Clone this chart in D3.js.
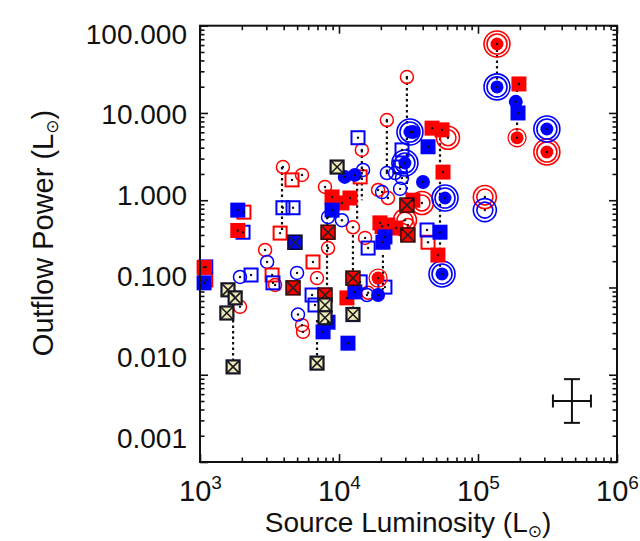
<!DOCTYPE html>
<html><head><meta charset="utf-8">
<script src="https://cdn.jsdelivr.net/npm/d3@7"></script>
<style>body{margin:0;background:#fff}svg{display:block}text{font-family:"Liberation Sans",Arial,sans-serif;fill:#111}</style>
</head><body><svg id="c" width="640" height="541"></svg>
<script>
// ---------- data: [Source Luminosity (Lsun), Outflow Power (Lsun)] ----------
const xTickValues = [1e3, 1e4, 1e5, 1e6];
const xTickExponents = ["3", "4", "5", "6"];
const yTickValues = [100, 10, 1, 0.1, 0.01, 0.001];
const yTickLabels = ["100.000", "10.000", "1.000", "0.100", "0.010", "0.001"];

const redFilledSquares = [[197000,21.5],[46700,6.7],[55100,6.4],[56000,2.1],[51500,0.235],[34000,1.0],
  [8910,1.09],[12000,1.06],[10500,0.93],[19700,0.55],[22500,0.52],[20400,0.50],[25700,0.48],
  [1870,0.45],[11400,0.076],[1070,0.17]];
const redXSquares = [[12600,0.128],[7930,0.082],[4670,0.099],[30800,0.88],[31300,0.40],[8340,0.43]];
const darkXSquares = [[9690,2.4],[1590,0.094],[1790,0.076],[1560,0.051],[1730,0.0123],
  [7930,0.063],[7930,0.045],[12600,0.049],[6950,0.0136]];
const blueXSquares = [[4820,0.33]];
const blueFilledSquares = [[194000,10],[43700,4.1],[53300,0.43],[1870,0.77],[8910,0.77],[21400,0.38],
  [20700,0.33],[13000,0.089],[8340,0.040],[7680,0.031],[11600,0.023],[1070,0.113]];
const blueFilledCircles = [[187000,13.4],[40200,1.62],[11000,1.85],[13000,1.95],[19100,0.082],[34000,6.05]];
const redFilledCircles = [[191000,5.2],[19100,0.128]];
const redBullseyes = [[137000,61.7],[313000,3.57]];
const blueBullseyes = [[137000,19.9],[313000,6.55],[57900,1.06],[55100,0.143],[32400,6.05],[29800,2.67]];
const redRings = [[112000,1.09],[60800,5.2],[29800,0.59],[39500,0.93]];
const blueRings = [[112000,0.77]];
const redOpenCircles = [[30800,25.8],[22100,8.3],[14600,3.77],[3950,2.4],[5420,1.95],[7930,1.42],
  [19100,1.31],[22500,1.06],[12600,0.49],[15400,0.37],[8340,0.283],[2940,0.269],[6950,0.128],
  [3470,0.107],[1940,0.060],[5420,0.037],[5510,0.031],[16200,0.087],[28400,0.46],[31300,0.52]];
const blueOpenCircles = [[22100,2.05],[14900,2.22],[25300,2.05],[28400,1.8],[8340,0.64],[10500,0.59],
  [20400,1.24],[4990,0.147],[3040,0.196],[1940,0.132],[5070,0.049],[15900,0.082],[27500,1.35]];
const redOpenSquares = [[14200,1.85],[4590,1.71],[2070,0.73],[3770,0.42],[6500,0.196],[3300,0.139],
  [43700,0.33],[1100,0.122]];
const blueOpenSquares = [[13700,5.2],[28400,3.77],[27500,2.4],[3950,0.82],[4670,0.82],[2040,0.43],
  [16200,0.283],[2330,0.139],[3350,0.113],[14200,0.116],[21400,0.101],[6400,0.082],[6720,0.063],
  [43000,0.456],[1100,0.172]];
// dotted links between measurements of one source: [L, P1, P2]
const links = [[137000,61.7,19.9],[191000,21.5,5.2],[30800,25.8,1.0],[22100,8.3,2.05],[14600,3.77,1.0],
  [13500,1.57,0.59],[3890,2.4,0.42],[53300,5.2,0.143],[12600,0.40,0.0425],[20700,0.235,0.094],
  [8200,1.0,0.082],[1730,0.076,0.0123],[6950,0.0425,0.0136],[1640,0.094,0.051]];
// typical error bar: center and multiplicative half-widths
const errCenter = [474000, 0.0050];
const errFactor = [1.37, 1.78];

// ---------- drawing ----------
const svg = d3.select("#c");
const L = 200, R = 617, T = 25.7, B = 462;
const x = d3.scaleLog().domain([1e3, 1e6]).range([L, R]);
const y = d3.scaleLog().domain([1e-3, 1e2]).range([B, T]);
const yLab = d3.scaleLog().domain([1e-3, 1e2]).range([437, 33]);
const RED = "#ff0000", BLUE = "#0000ff";

svg.append("rect").attr("width",640).attr("height",541).attr("fill","#fff");

function minors(lo, hi){ const a=[]; for(let e=lo;e<hi;e++) for(let k=2;k<=9;k++) a.push(k*Math.pow(10,e)); return a; }
const xMinor = minors(3,6), yMinor = minors(-3,2);

function tickAxis(axisFn, scale, vals, size, tr){
  const g = svg.append("g").attr("transform", tr)
    .call(axisFn(scale).tickValues(vals).tickSizeInner(size).tickSizeOuter(0).tickFormat(""));
  g.select(".domain").remove();
  g.selectAll("text").remove();
  g.selectAll("line").attr("stroke","#111").attr("stroke-width",1.6);
}
tickAxis(d3.axisBottom, x, xTickValues, -8, `translate(0,${B})`);
tickAxis(d3.axisBottom, x, xMinor, -4.5, `translate(0,${B})`);
tickAxis(d3.axisTop, x, xTickValues, -8, `translate(0,${T})`);
tickAxis(d3.axisTop, x, xMinor, -4.5, `translate(0,${T})`);
tickAxis(d3.axisLeft, y, yTickValues, -8, `translate(${L},0)`);
tickAxis(d3.axisLeft, y, yMinor, -4.5, `translate(${L},0)`);
tickAxis(d3.axisRight, y, yTickValues, -8, `translate(${R},0)`);
tickAxis(d3.axisRight, y, yMinor, -4.5, `translate(${R},0)`);

// y labels
const gy = svg.append("g").attr("transform",`translate(187,0)`)
  .call(d3.axisLeft(yLab).tickValues(yTickValues).tickSize(0).tickPadding(0)
        .tickFormat((d,i)=>yTickLabels[i]));
gy.select(".domain").remove();
gy.selectAll("line").remove();
gy.selectAll("text").attr("font-size",28).attr("fill","#111").attr("dy","0.36em")
  .style("font-family","'Liberation Sans',Arial,sans-serif");

// x labels with superscript exponents
const gx = svg.append("g").attr("transform",`translate(0,501)`)
  .call(d3.axisBottom(x).tickValues(xTickValues).tickSize(0).tickPadding(0).tickFormat(""));
gx.select(".domain").remove();
gx.selectAll("line").remove();
gx.selectAll(".tick").each(function(d,i){
  const t = d3.select(this).select("text").attr("y",0).attr("dy",null)
    .attr("font-size",29).attr("fill","#111").attr("text-anchor","middle")
    .style("font-family","'Liberation Sans',Arial,sans-serif").text(null);
  t.append("tspan").text("10");
  t.append("tspan").attr("font-size",19).attr("dy",-12).text(xTickExponents[i]);
});

// axis titles
const xt = svg.append("text").attr("x",408).attr("y",532).attr("text-anchor","middle").attr("font-size",28);
xt.append("tspan").text("Source Luminosity (L");
xt.append("tspan").attr("font-size",17).attr("dy",5).style("font-family","'DejaVu Sans'").text("⊙");
xt.append("tspan").attr("dy",-5).text(")");
const yt = svg.append("text").attr("transform","translate(53,233) rotate(-90)").attr("text-anchor","middle").attr("font-size",29);
yt.append("tspan").text("Outflow Power (L");
yt.append("tspan").attr("font-size",17).attr("dy",5).style("font-family","'DejaVu Sans'").text("⊙");
yt.append("tspan").attr("dy",-5).text(")");

// plotting layer
const P = svg.append("g");

P.selectAll(".lk").data(links).join("line")
  .attr("x1",d=>x(d[0])).attr("x2",d=>x(d[0])).attr("y1",d=>y(d[1])).attr("y2",d=>y(d[2]))
  .attr("stroke","#111").attr("stroke-width",2.2).attr("stroke-dasharray","2.5,3");

function centerDots(data){
  P.append("g").selectAll("circle").data(data).join("circle")
    .attr("cx",d=>x(d[0])).attr("cy",d=>y(d[1])).attr("r",1.2).attr("fill","#111");
}
function rings(data,color,radii,sw){
  radii.forEach(r=>P.append("g").selectAll("circle").data(data).join("circle")
    .attr("cx",d=>x(d[0])).attr("cy",d=>y(d[1])).attr("r",r)
    .attr("fill","none").attr("stroke",color).attr("stroke-width",sw));
}
function discs(data,color,r){
  P.append("g").selectAll("circle").data(data).join("circle")
    .attr("cx",d=>x(d[0])).attr("cy",d=>y(d[1])).attr("r",r).attr("fill",color);
}
function squares(data,fill,stroke,s,sw){
  P.append("g").selectAll("rect").data(data).join("rect")
    .attr("x",d=>x(d[0])-s/2).attr("y",d=>y(d[1])-s/2).attr("width",s).attr("height",s)
    .attr("fill",fill).attr("stroke",stroke).attr("stroke-width",sw);
}
function crosses(data,s,color){
  const g = P.append("g").attr("stroke",color).attr("stroke-width",1.6);
  g.selectAll(".a").data(data).join("line").attr("class","a")
    .attr("x1",d=>x(d[0])-s/2).attr("y1",d=>y(d[1])-s/2).attr("x2",d=>x(d[0])+s/2).attr("y2",d=>y(d[1])+s/2);
  g.selectAll(".b").data(data).join("line").attr("class","b")
    .attr("x1",d=>x(d[0])-s/2).attr("y1",d=>y(d[1])+s/2).attr("x2",d=>x(d[0])+s/2).attr("y2",d=>y(d[1])-s/2);
}

// large rings and bullseyes
rings(redRings, RED, [8,11.5], 1.6);
rings(blueRings, BLUE, [8,11.5], 1.6);
rings(redBullseyes, RED, [10,13], 1.6); discs(redBullseyes, RED, 6.5);
rings(blueBullseyes, BLUE, [10,13], 1.6); discs(blueBullseyes, BLUE, 6.5);
// open markers
rings(redOpenCircles, RED, [6.5], 1.5);
rings(blueOpenCircles, BLUE, [6.5], 1.5);
squares(redOpenSquares, "none", RED, 13, 2);
squares(blueOpenSquares, "none", BLUE, 13, 2);
// filled markers
squares(redFilledSquares, RED, "none", 15, 0);
squares(blueFilledSquares, BLUE, "none", 15, 0);
discs(blueFilledCircles, BLUE, 7);
discs(redFilledCircles, RED, 6.5); rings(redFilledCircles, RED, [9], 1.3);
// crossed squares
squares(redXSquares, RED, "#3a0000", 14, 1.5); crosses(redXSquares, 14, "#222");
squares(blueXSquares, BLUE, "#000030", 14, 1.5); crosses(blueXSquares, 14, "#222");
squares(darkXSquares, "#efe9b8", "#15152a", 13, 2.2); crosses(darkXSquares, 13, "#1a1a1a");

centerDots([].concat(redFilledSquares, blueFilledSquares, redOpenCircles, blueOpenCircles,
  redOpenSquares, blueOpenSquares, redBullseyes, blueBullseyes, redRings, blueRings,
  blueFilledCircles, redFilledCircles));

// typical error bar
const ex = x(errCenter[0]), ey = y(errCenter[1]);
const xl = x(errCenter[0]/errFactor[0]), xr = x(errCenter[0]*errFactor[0]);
const yb = y(errCenter[1]/errFactor[1]), ytp = y(errCenter[1]*errFactor[1]);
const eg = svg.append("g").attr("stroke","#111").attr("stroke-width",2);
eg.append("line").attr("x1",xl).attr("x2",xr).attr("y1",ey).attr("y2",ey);
eg.append("line").attr("x1",ex).attr("x2",ex).attr("y1",ytp).attr("y2",yb);
eg.append("line").attr("x1",xl).attr("x2",xl).attr("y1",ey-6.5).attr("y2",ey+6.5);
eg.append("line").attr("x1",xr).attr("x2",xr).attr("y1",ey-6.5).attr("y2",ey+6.5);
eg.append("line").attr("x1",ex-8).attr("x2",ex+8).attr("y1",ytp).attr("y2",ytp);
eg.append("line").attr("x1",ex-8).attr("x2",ex+8).attr("y1",yb).attr("y2",yb);

// frame
svg.append("rect").attr("x",L).attr("y",T).attr("width",R-L).attr("height",B-T)
  .attr("fill","none").attr("stroke","#111").attr("stroke-width",2);
</script></body></html>
